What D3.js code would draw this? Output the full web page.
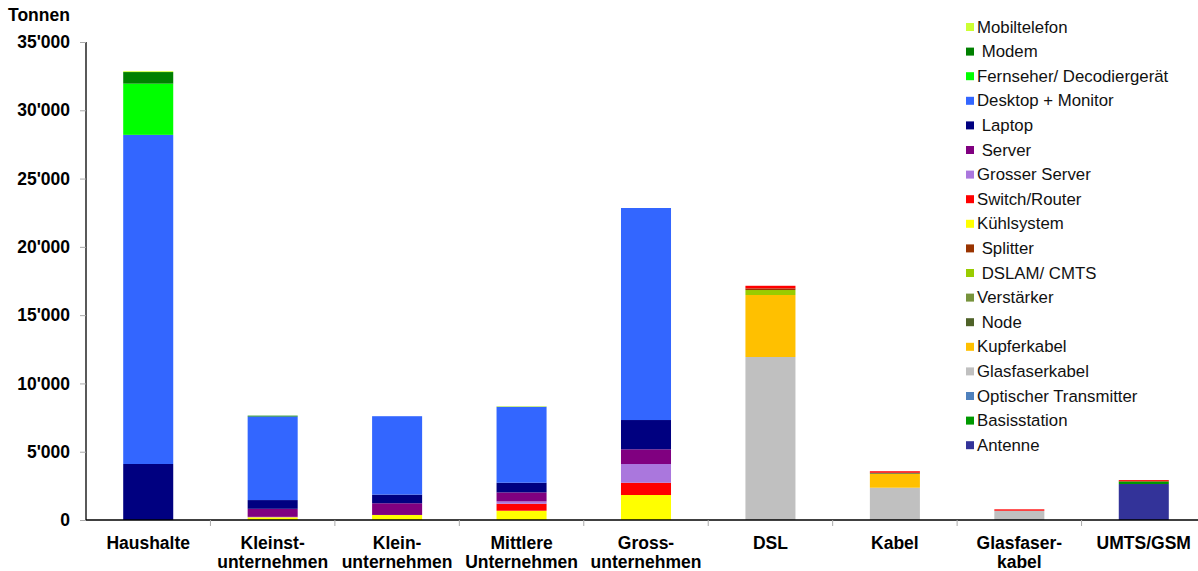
<!DOCTYPE html>
<html>
<head>
<meta charset="utf-8">
<script src="https://cdn.jsdelivr.net/npm/d3@7"></script>
<style>
  html, body { margin: 0; padding: 0; background: #fff; }
  svg { display: block; font-family: "Liberation Sans", Arial, sans-serif; }
  text { white-space: pre; }
</style>
</head>
<body>
<svg id="chart" width="1198" height="571"></svg>
<script>
// Categories (two-line labels)
const categories = ["Haushalte", "Kleinst-\nunternehmen", "Klein-\nunternehmen", "Mittlere\nUnternehmen",
  "Gross-\nunternehmen", "DSL", "Kabel", "Glasfaser-\nkabel", "UMTS/GSM"];

// Series in legend order (top of legend = top of stack)
const seriesNames = ["Mobiltelefon", " Modem", "Fernseher/ Decodiergerät", "Desktop + Monitor", " Laptop",
  " Server", "Grosser Server", "Switch/Router", "Kühlsystem", " Splitter", " DSLAM/ CMTS", "Verstärker",
  " Node", "Kupferkabel", "Glasfaserkabel", "Optischer Transmitter", "Basisstation", "Antenne"];

const seriesColors = ["#ccff33", "#008000", "#00ff00", "#3366ff", "#000080", "#800080", "#aa77dd",
  "#ff0000", "#ffff00", "#993300", "#99cc00", "#77933c", "#4f6228", "#ffc000", "#c0c0c0",
  "#4f81bd", "#009900", "#333399"];

// Tonnen per category, one array per series
const mobiltelefon   = [60, 0, 0, 40, 0, 0, 0, 0, 0];
const modem          = [850, 60, 0, 0, 0, 0, 0, 0, 0];
const fernseher      = [3750, 0, 0, 0, 0, 0, 0, 0, 0];
const desktop        = [24100, 6120, 5740, 5565, 15525, 0, 0, 0, 0];
const laptop         = [4100, 640, 635, 710, 2145, 0, 0, 0, 0];
const server         = [0, 590, 855, 660, 1075, 0, 0, 0, 0];
const grosserServer  = [0, 30, 0, 170, 1370, 0, 0, 0, 0];
const switchRouter   = [0, 0, 0, 510, 900, 190, 110, 100, 90];
const kuehlsystem    = [0, 200, 370, 680, 1830, 0, 0, 0, 0];
const splitter       = [0, 0, 0, 0, 0, 120, 0, 0, 0];
const dslam          = [0, 0, 0, 0, 0, 365, 0, 0, 0];
const verstaerker    = [0, 0, 0, 0, 0, 0, 0, 0, 0];
const node           = [0, 0, 0, 0, 0, 0, 70, 0, 0];
const kupferkabel    = [0, 0, 0, 0, 0, 4540, 1025, 0, 0];
const glasfaserkabel = [0, 0, 0, 0, 0, 11935, 2365, 680, 0];
const optTransmitter = [0, 0, 0, 0, 0, 0, 0, 0, 0];
const basisstation   = [0, 0, 0, 0, 0, 0, 0, 0, 195];
const antenne        = [0, 0, 0, 0, 0, 0, 0, 0, 2635];

const seriesValues = [mobiltelefon, modem, fernseher, desktop, laptop, server, grosserServer,
  switchRouter, kuehlsystem, splitter, dslam, verstaerker, node, kupferkabel, glasfaserkabel,
  optTransmitter, basisstation, antenne];

const yTicks = [0, 5000, 10000, 15000, 20000, 25000, 30000, 35000];
const yTickLabels = ["0", "5'000", "10'000", "15'000", "20'000", "25'000", "30'000", "35'000"];

const svg = d3.select("#chart");
const plot = { left: 86, right: 1206, top: 42, bottom: 520 };

const x = d3.scaleBand()
  .domain(d3.range(categories.length))
  .range([plot.left, plot.right])
  .paddingInner(0.598)
  .paddingOuter(0.299);

const y = d3.scaleLinear().domain([0, 35000]).range([plot.bottom, plot.top]);

// Stack from the bottom: reverse of legend order
const keys = seriesNames.map((_, i) => i).reverse();
const rows = categories.map((c, ci) => {
  const r = { ci };
  seriesValues.forEach((arr, si) => { r[si] = arr[ci]; });
  return r;
});
const stacked = d3.stack().keys(keys)(rows);

svg.append("g").selectAll("g")
  .data(stacked)
  .join("g")
  .attr("fill", d => seriesColors[d.key])
  .selectAll("rect")
  .data(d => d.filter(s => s[1] - s[0] > 0))
  .join("rect")
  .attr("x", d => x(d.data.ci))
  .attr("width", x.bandwidth())
  .attr("y", d => y(d[1]))
  .attr("height", d => y(d[0]) - y(d[1]));

// Y axis
const yAxis = svg.append("g").attr("transform", `translate(${plot.left},0)`)
  .call(d3.axisLeft(y).tickValues(yTicks).tickFormat((d, i) => yTickLabels[i]).tickSize(6).tickPadding(10));
yAxis.select(".domain").attr("stroke", "#000").attr("stroke-width", 1.3).attr("d", `M0,${plot.top}V${plot.bottom}`);
yAxis.selectAll(".tick line").attr("stroke", "#aaa");
yAxis.selectAll(".tick text")
  .attr("font-family", "Liberation Sans, Arial, sans-serif")
  .attr("font-size", 17.5).attr("font-weight", "bold").attr("fill", "#000");

// X axis line and category separators
svg.append("line")
  .attr("x1", plot.left).attr("x2", plot.right)
  .attr("y1", plot.bottom).attr("y2", plot.bottom)
  .attr("stroke", "#000").attr("stroke-width", 1.3);

const step = x.step();
svg.append("g").selectAll("line")
  .data(d3.range(1, categories.length + 1))
  .join("line")
  .attr("x1", i => plot.left + step * i).attr("x2", i => plot.left + step * i)
  .attr("y1", plot.bottom).attr("y2", plot.bottom + 6)
  .attr("stroke", "#aaa");

// Category labels
const catG = svg.append("g")
  .attr("font-size", 17.5).attr("font-weight", "bold").attr("text-anchor", "middle");
categories.forEach((c, i) => {
  const t = catG.append("text")
    .attr("x", x(i) + x.bandwidth() / 2)
    .attr("y", 549);
  c.split("\n").forEach((line, li) => {
    t.append("tspan").attr("x", x(i) + x.bandwidth() / 2).attr("dy", li === 0 ? 0 : 19).text(line);
  });
});

// Unit label
svg.append("text").attr("x", 8).attr("y", 21)
  .attr("font-size", 17.5).attr("font-weight", "bold").text("Tonnen");

// Legend
const legend = svg.append("g").attr("transform", "translate(966,27)");
seriesNames.forEach((name, i) => {
  const g = legend.append("g").attr("transform", `translate(0,${i * 24.6})`);
  g.append("rect").attr("x", 0).attr("y", -4).attr("width", 8).attr("height", 8).attr("fill", seriesColors[i]);
  g.append("text").attr("x", 11).attr("y", 5.5).attr("font-size", 16.8).attr("fill", "#111").text(name);
});
</script>
</body>
</html>
